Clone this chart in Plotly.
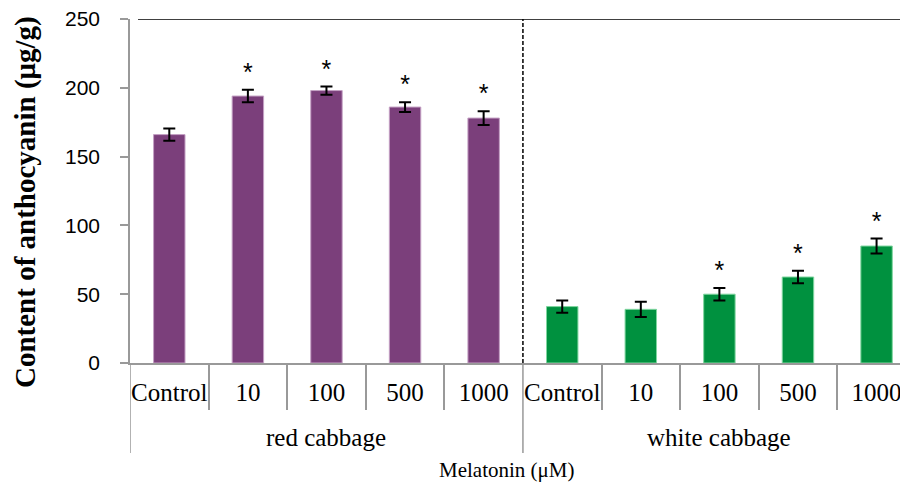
import plotly.graph_objects as go

group_names = ["red cabbage", "white cabbage"]
dose_labels = ["Control", "10", "100", "500", "1000"]
groups = [group_names[0]] * 5 + [group_names[1]] * 5
doses = dose_labels * 2
values = [166, 194, 198, 186, 178, 41, 39, 50, 62.5, 85]
errors = [4.5, 4.5, 3, 3.5, 5, 4.5, 5.5, 4.5, 4.5, 5.5]
significant = [False, True, True, True, True, False, False, True, True, True]
bar_colors = ["#7b3f7b"] * 5 + ["#00913f"] * 5
edge_colors = ["#c4a0c4"] * 5 + ["#7fd69f"] * 5

pos = list(range(len(values)))
n_per_group = len(dose_labels)
inner_bounds = [i + 0.5 for i in pos[:-1] if (i + 1) % n_per_group != 0]
group_bounds = [g * n_per_group - 0.5 for g in range(len(group_names))]
group_centers = [g * n_per_group + (n_per_group - 1) / 2 for g in range(len(group_names))]

star_x = [p for p, s in zip(pos, significant) if s]
star_y = [v + e + 11 for v, e, s in zip(values, errors, significant) if s]

fig = go.Figure()
fig.add_trace(go.Bar(
    x=pos, y=values,
    width=0.4,
    marker=dict(color=bar_colors, line=dict(color=edge_colors, width=1)),
    error_y=dict(type="data", array=errors, color="black", thickness=2, width=6),
    showlegend=False,
))
fig.add_trace(go.Scatter(
    x=star_x, y=star_y, mode="text", text=["*"] * len(star_y),
    textfont=dict(family="Liberation Sans", size=25, color="black"),
    showlegend=False,
))

# top border line and dashed separator between the two cabbages
fig.add_shape(type="line", xref="paper", yref="y", x0=0.0103, x1=1, y0=250, y1=250,
              line=dict(color="black", width=1.5))
fig.add_shape(type="line", xref="x", yref="y", x0=group_bounds[1], x1=group_bounds[1],
              y0=0, y1=250, line=dict(color="black", width=1.5, dash="4px,2px"))

# group dividers extending below the axis
for b in group_bounds:
    fig.add_shape(type="line", xref="x", yref="paper", x0=b, x1=b, y0=0, y1=-0.2616,
                  line=dict(color="#999999", width=1.5))

# group labels
for name, c in zip(group_names, group_centers):
    fig.add_annotation(text=name, xref="x", yref="paper", x=c, y=-0.218,
                       showarrow=False, yanchor="middle",
                       font=dict(family="Liberation Serif", size=25, color="black"))

fig.add_annotation(text="Melatonin (μM)", xref="paper", yref="paper",
                   x=0.4846, y=-0.311, showarrow=False, yanchor="middle",
                   font=dict(family="Liberation Serif", size=21, color="black"))

fig.add_annotation(text="<b>Content of anthocyanin (μg/g)</b>", xref="paper", yref="paper",
                   x=-0.135, y=0.468, showarrow=False, textangle=-90,
                   xanchor="center", yanchor="middle",
                   font=dict(family="Liberation Serif", size=29, color="black"))

fig.update_layout(
    width=900, height=475,
    margin=dict(l=122, r=0, t=11, b=120),
    plot_bgcolor="white", paper_bgcolor="white",
    xaxis=dict(
        range=[-0.5, 9.4],
        automargin=False,
        tickmode="array", tickvals=pos, ticktext=doses,
        showline=True, linecolor="#999999", linewidth=1.5,
        ticks="", ticklabelstandoff=6,
        ticklabeloverflow="allow",
        minor=dict(tickmode="array", tickvals=inner_bounds, ticks="outside", ticklen=45,
                   tickcolor="#999999", tickwidth=1.5, showgrid=False),
        tickfont=dict(family="Liberation Serif", size=25, color="black"),
        showgrid=False, zeroline=False,
    ),
    yaxis=dict(
        range=[0, 250], dtick=50,
        automargin=False,
        showline=True, linecolor="#999999", linewidth=1.5,
        ticks="outside", ticklen=8, tickcolor="#999999", tickwidth=1.5,
        ticklabelstandoff=16,
        ticklabeloverflow="allow",
        tickfont=dict(family="Liberation Sans", size=21, color="black"),
        showgrid=False, zeroline=False,
    ),
)

fig.write_html("out.html")
